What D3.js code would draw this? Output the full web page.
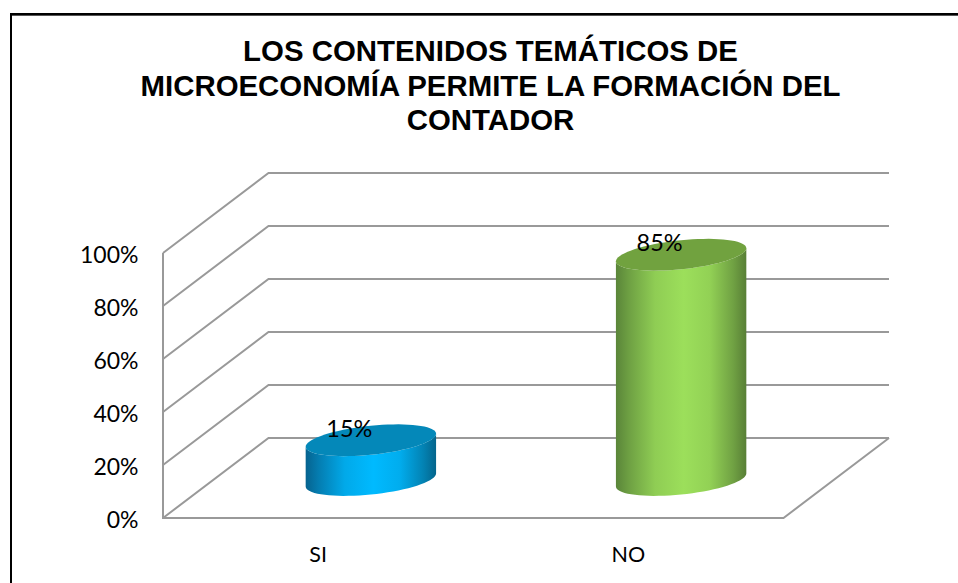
<!DOCTYPE html>
<html><head><meta charset="utf-8">
<script src="https://cdn.jsdelivr.net/npm/d3@7/dist/d3.min.js"></script>
<style>html,body{margin:0;padding:0;background:#fff}svg{display:block}</style>
</head><body><div id="c"></div>
<script>
const categories = ["SI", "NO"];
const values = [15, 85];
const valueLabels = ["15%", "85%"];
const yTicks = [0, 20, 40, 60, 80, 100];
const titleLines = ["LOS CONTENIDOS TEMÁTICOS DE", "MICROECONOMÍA PERMITE LA FORMACIÓN DEL", "CONTADOR"];
const sideColors = [["#06638f", "#00baff", "#04658c"], ["#5a8539", "#9cdf5b", "#587f36"]];
const topColors = ["#0488b9", "#71a23f"];

const W = 958, H = 583, depthX = 105.5, depthY = 80;
const svg = d3.select("#c").append("svg").attr("width", W).attr("height", H);
const y = d3.scaleLinear().domain([0, 100]).range([518, 253]);
const x = d3.scaleBand().domain(categories).range([163, 783.5]);

svg.append("path").attr("d", "M11,583V14H958").attr("fill", "none").attr("stroke", "#000").attr("stroke-width", 2);
svg.append("path").attr("d", "M12,15.5H958").attr("fill", "none").attr("stroke", "#555").attr("stroke-width", 1);

svg.append("g").selectAll("text").data(titleLines).join("text")
  .attr("x", 490.5).attr("y", (d, i) => 61 + i * 34.5).attr("text-anchor", "middle")
  .attr("font-family", "Liberation Sans").attr("font-weight", "bold").attr("font-size", 29.4)
  .attr("fill", "#000").text(d => d);

const grid = "#999999";
const gridG = svg.append("g").attr("fill", "none").attr("stroke", grid).attr("stroke-width", 2);
gridG.selectAll("path").data(yTicks).join("path").attr("d", t =>
  `M${x.range()[0]},${y(t)}L${x.range()[0] + depthX},${y(t) - depthY}L${x.range()[1] + depthX},${y(t) - depthY}`);
gridG.append("path").attr("d",
  `M${x.range()[0]},${y(100)}V${y(0)}H${x.range()[1]}L${x.range()[1] + depthX},${y(0) - depthY}`);

svg.append("g").selectAll("text").data(yTicks).join("text")
  .attr("x", 138.5).attr("y", t => y(t) + 10).attr("text-anchor", "end")
  .attr("font-family", "Lato, Carlito, sans-serif").attr("font-size", 23).attr("fill", "#000")
  .text(t => t + "%");
svg.append("g").selectAll("text").data(categories).join("text")
  .attr("x", d => x(d) + x.bandwidth() / 2).attr("y", 562).attr("text-anchor", "middle")
  .attr("font-family", "Lato, Carlito, sans-serif").attr("font-size", 21.5).attr("fill", "#000")
  .text(d => d);

const defs = svg.append("defs");
const gradientStops = [[0, 0], [0.1, 0.3], [0.3, 0.8], [0.52, 1], [0.72, 0.85], [0.9, 0.35], [1, 0]];
categories.forEach((c, i) => {
  const g = defs.append("linearGradient").attr("id", "side" + i);
  gradientStops.forEach(([o, m]) => {
    const col = d3.interpolateRgb(sideColors[i][o < 0.52 ? 0 : 2], sideColors[i][1])(m);
    g.append("stop").attr("offset", o).attr("stop-color", col);
  });
});

const rx = 65.2, ry = 14.5, skew = -6.5, baseOff = 38;
const cx = d => x(d) + x.bandwidth() / 2 + depthX / 2;
const ang = d3.range(0, 361, 5).map(a => a * Math.PI / 180);
const pt = (c, yy, t) => [c + rx * Math.cos(t), yy + ry * Math.sin(t) + skew * Math.cos(t)];
const line = d3.line();

categories.forEach((c, i) => {
  const X = cx(c), yTop = y(values[i]) - baseOff, yBase = y(0) - baseOff;
  const lower = ang.filter(t => t <= Math.PI + 1e-6);
  const side = lower.map(t => pt(X, yBase, t)).concat(lower.slice().reverse().map(t => pt(X, yTop, t)));
  const cyl = svg.append("g");
  cyl.append("path").attr("d", line(side) + "Z").attr("fill", `url(#side${i})`);
  cyl.append("path").attr("d", line(ang.map(t => pt(X, yTop, t))) + "Z").attr("fill", topColors[i]);
  svg.append("text").attr("x", X - 21.5).attr("y", yTop - 3.5)
    .attr("text-anchor", "middle").attr("font-family", "Lato, Carlito, sans-serif")
    .attr("font-size", 23.5).attr("fill", "#000").text(valueLabels[i]);
});
</script></body></html>
